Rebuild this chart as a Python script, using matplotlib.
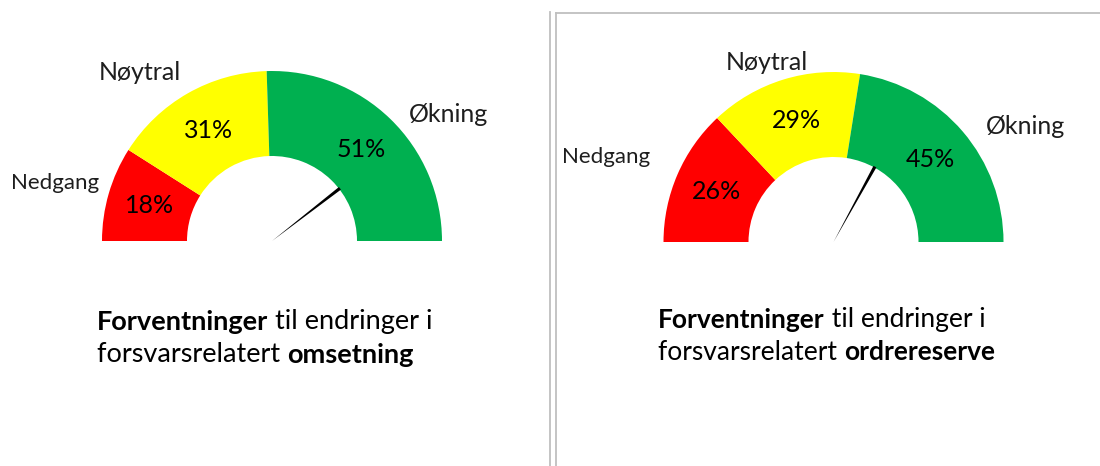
import matplotlib.pyplot as plt
from matplotlib.patches import Wedge

plt.rcParams['font.family'] = ['Lato', 'DejaVu Sans']

# data
categories = ['Nedgang', 'Nøytral', 'Økning']
omsetning = [18, 31, 51]
ordrereserve = [26, 29, 45]
# needle position, share of the half circle (0 = left, 100 = right)
needle_omsetning = 79
needle_ordrereserve = 66
colors = ['#ff0000', '#ffff00', '#00b050']

W, H = 1100, 466
fig = plt.figure(figsize=(11, 4.66), dpi=100)
ax = fig.add_axes([0, 0, 1, 1])

txt_col = '#1e1e1e'


def gauge(cx, cy, values, needle, label_pos, label_sizes):
    # cx, cy in pixels from the top left corner
    r = 170
    c = (cx, H - cy)
    ax.pie(values + [sum(values)], radius=r, center=c, startangle=180,
           counterclock=False, colors=colors + ['none'],
           labels=[f'{v}%' for v in values] + [''], labeldistance=0.75,
           wedgeprops=dict(width=r / 2, linewidth=0),
           textprops=dict(ha='center', va='center', fontsize=18, color='black'))
    theta = 180 - 180 * needle / 100
    ax.add_patch(Wedge(c, r / 2 + 1, theta - 1.1, theta + 1.1,
                       facecolor='black', linewidth=0, zorder=5))
    for name, (dx, dy), fs in zip(categories, label_pos, label_sizes):
        ax.text(c[0] + dx, c[1] + dy, name, ha='center', va='center',
                fontsize=fs, color=txt_col)


def title(x, y, parts, gap=33, fs=19.5):
    # parts: list of lines, each line a list of (text, bold)
    for i, line in enumerate(parts):
        prev = None
        for s, bold in line:
            w = 'bold' if bold else 'normal'
            if prev is None:
                prev = ax.text(x, H - (y + i * gap), s, ha='left', va='center',
                               fontsize=fs, fontweight=w, color='black')
            else:
                prev = ax.annotate(s, xy=(1, 0.5), xycoords=prev, ha='left',
                                   va='center', fontsize=fs, fontweight=w,
                                   color='black')


gauge(272, 241, omsetning, needle_omsetning,
      [(-217, 58), (-132, 168), (176, 127)], [16, 18, 18])
gauge(833.5, 242, ordrereserve, needle_ordrereserve,
      [(-227, 85), (-67, 180), (192, 115)], [16, 18, 18])

title(97, 322, [[('Forventninger', True), (' til endringer i', False)],
                [('forsvarsrelatert ', False), ('omsetning', True)]])
title(658, 320, [[('Forventninger', True), (' til endringer i', False)],
                 [('forsvarsrelatert ', False), ('ordrereserve', True)]],
      gap=32, fs=19)

# frame lines of the right panel
ax.plot([550, 550], [0, H - 12], color='#bfbfbf', lw=1.3)
ax.plot([555.5, 555.5], [0, H - 13], color='#bfbfbf', lw=1.3)
ax.plot([555.5, W], [H - 13, H - 13], color='#bfbfbf', lw=1.3)

ax.set_xlim(0, W)
ax.set_ylim(0, H)
ax.set_aspect('equal')
ax.axis('off')

fig.savefig('out.png', dpi=100)
